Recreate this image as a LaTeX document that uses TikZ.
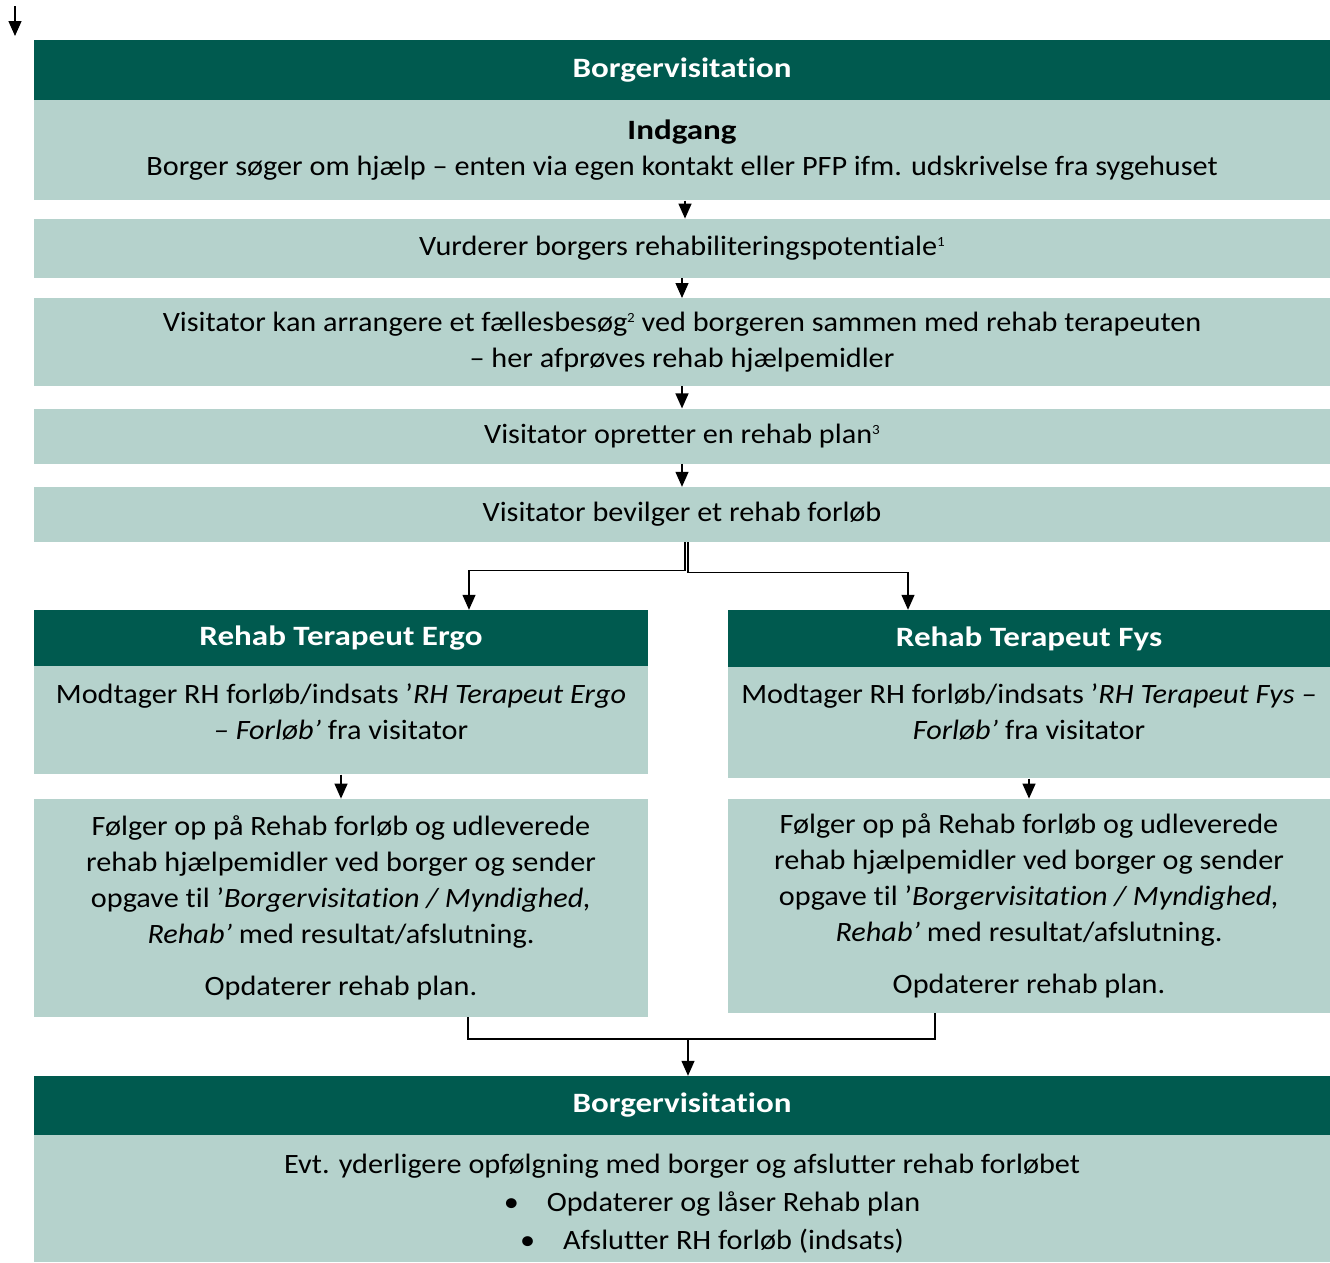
\documentclass[tikz,border=0pt]{standalone}
\usepackage{fontspec}
\setmainfont{Carlito}[Ligatures=NoCommon, UprightFeatures={FakeStretch=1.08}, ItalicFeatures={FakeStretch=1.08}, BoldFeatures={FakeStretch=1.18}]
\usepackage{xcolor}
\usepackage{tikz}
\usetikzlibrary{positioning,arrows.meta}
\definecolor{morkgroen}{HTML}{005A4F}
\definecolor{lysgroen}{HTML}{B5D2CC}
\newcommand{\fodnote}[1]{\raisebox{9pt}{\fontsize{14}{14}\selectfont #1}}

\begin{document}
\begin{tikzpicture}[
  x=1pt, y=-1pt,
  every node/.style={inner sep=0pt, font=\fontsize{28}{36}\selectfont},
  hoved/.style={fill=morkgroen, text=white, align=center, font=\fontsize{28}{36}\selectfont\bfseries},
  felt/.style={fill=lysgroen, text=black, align=center},
  pil/.style={draw, line width=1.3pt, -{Triangle[length=15pt,width=13pt]}},
  streg/.style={draw, line width=1.3pt}
]
\useasboundingbox (0,0) rectangle (1330,1262);

% visitation
\node[hoved, minimum width=1296pt, minimum height=60pt] (bvTop) at (682,70) {Borgervisitation};
\node[felt, below=0pt of bvTop, minimum width=1296pt, minimum height=100pt] (indgang)
  {{\bfseries Indgang}\\Borger søger om hjælp – enten via egen kontakt eller PFP ifm. udskrivelse fra sygehuset};
\node[felt, below=18pt of indgang, minimum width=1296pt, minimum height=59pt] (vurder)
  {Vurderer borgers rehabiliteringspotentiale\fodnote{1}};
\node[felt, below=20pt of vurder, minimum width=1296pt, minimum height=88pt] (faelles)
  {Visitator kan arrangere et fællesbesøg\fodnote{2} ved borgeren sammen med rehab terapeuten\\– her afprøves rehab hjælpemidler};
\node[felt, below=22pt of faelles, minimum width=1296pt, minimum height=55pt] (plan)
  {Visitator opretter en rehab plan\fodnote{3}};
\node[felt, below=23pt of plan, minimum width=1296pt, minimum height=55pt] (bevil)
  {Visitator bevilger et rehab forløb};

% terapeuterne
\node[hoved, minimum width=614pt, minimum height=56pt] (ergoHdr) at (341,638) {Rehab Terapeut Ergo};
\node[felt, below=0pt of ergoHdr, minimum width=614pt, minimum height=108pt] (ergoBody)
  {Modtager RH forløb/indsats ’{\itshape RH Terapeut Ergo}\\{\itshape – Forløb’} fra visitator\rule[-18pt]{0pt}{1pt}};
\node[felt, below=24pt of ergoBody, minimum width=614pt, minimum height=218pt] (ergoFollow)
  {Følger op på Rehab forløb og udleverede\\rehab hjælpemidler ved borger og sender\\opgave til ’{\itshape Borgervisitation / Myndighed,}\\{\itshape Rehab’} med resultat/afslutning.\\[16pt]Opdaterer rehab plan.};

\node[hoved, minimum width=602pt, minimum height=57pt] (fysHdr) at (1029,638.5) {Rehab Terapeut Fys};
\node[felt, below=0pt of fysHdr, minimum width=602pt, minimum height=111pt] (fysBody)
  {Modtager RH forløb/indsats ’{\itshape RH Terapeut Fys –}\\{\itshape Forløb’} fra visitator\rule[-22pt]{0pt}{1pt}};
\node[felt, below=20pt of fysBody, minimum width=602pt, minimum height=214pt] (fysFollow)
  {Følger op på Rehab forløb og udleverede\\rehab hjælpemidler ved borger og sender\\opgave til ’{\itshape Borgervisitation / Myndighed,}\\{\itshape Rehab’} med resultat/afslutning.\\[16pt]Opdaterer rehab plan.};

% afslutning
\node[hoved, minimum width=1296pt, minimum height=59pt] (bvEnd) at (682,1105.5) {Borgervisitation};
\node[felt, below=0pt of bvEnd, minimum width=1296pt, minimum height=127pt] (afslut)
  {\rule{0pt}{30pt}Evt. yderligere opfølgning med borger og afslutter rehab forløbet\\[2pt]
   \hspace*{60pt}\textbullet\hspace{28pt}Opdaterer og låser Rehab plan\\[2pt]
   \hspace*{60pt}\textbullet\hspace{28pt}Afslutter RH forløb (indsats)};

\coordinate (indPil) at (15,6);
\coordinate (samling) at (688,1039);

\draw[pil] (indPil) -- ++(0,30);
\draw[pil] ([xshift=3pt]indgang.south) -- ([xshift=3pt]vurder.north);
\draw[pil] (vurder) -- (faelles);
\draw[pil] (faelles) -- (plan);
\draw[pil] (plan) -- (bevil);
\draw[pil] ([xshift=3pt]bevil.south) -- ++(0,28) -| ([xshift=128pt]ergoHdr.north);
\draw[pil] ([xshift=6pt]bevil.south) -- ++(0,30) -| ([xshift=-121pt]fysHdr.north);
\draw[pil] (ergoBody) -- (ergoFollow);
\draw[pil] (fysBody) -- (fysFollow);
\draw[streg] ([xshift=127pt]ergoFollow.south) |- (samling) -| ([xshift=-94pt]fysFollow.south);
\draw[pil] (samling) -- (samling |- bvEnd.north);
\end{tikzpicture}
\end{document}
